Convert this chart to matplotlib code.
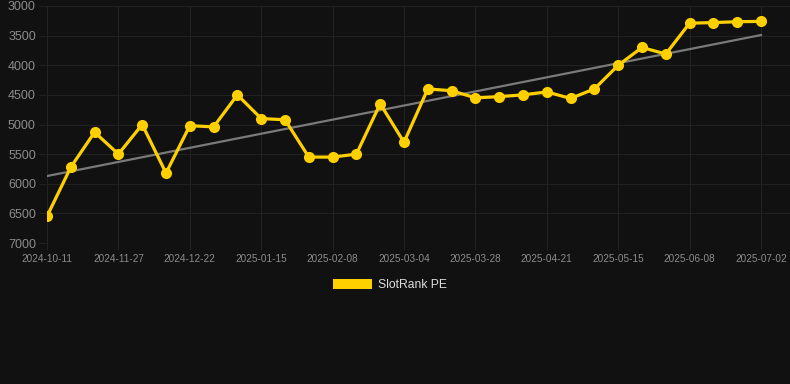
import numpy as np
import matplotlib
matplotlib.use("Agg")
import matplotlib.pyplot as plt
from matplotlib.patches import Patch

plt.rcParams["font.family"] = ["Liberation Sans", "DejaVu Sans"]

dates = ["2024-10-11", "2024-10-27", "2024-11-12", "2024-11-27", "2024-12-05",
         "2024-12-13", "2024-12-22", "2024-12-30", "2025-01-07", "2025-01-15",
         "2025-01-23", "2025-01-31", "2025-02-08", "2025-02-16", "2025-02-24",
         "2025-03-04", "2025-03-12", "2025-03-20", "2025-03-28", "2025-04-05",
         "2025-04-13", "2025-04-21", "2025-04-29", "2025-05-07", "2025-05-15",
         "2025-05-23", "2025-05-31", "2025-06-08", "2025-06-16", "2025-06-24",
         "2025-07-02"]
rank = [6550, 5720, 5130, 5500, 5000, 5820, 5020, 5040, 4500, 4900,
        4920, 5550, 5550, 5500, 4650, 5300, 4400, 4430, 4550, 4530,
        4500, 4450, 4560, 4400, 4000, 3700, 3810, 3290, 3280, 3265,
        3260]
y_ticks = [3000, 3500, 4000, 4500, 5000, 5500, 6000, 6500, 7000]

bg = "#111111"
grid_c = "#222222"
label_c = "#8c8c8c"
gold = "#FFD000"

W, H = 790, 384
fig = plt.figure(figsize=(W / 100, H / 100), dpi=100, facecolor=bg)
# axes box in pixels: left 47, right 790, top 6, bottom 243
ax = fig.add_axes([47 / W, 1 - 243 / H, (790 - 47) / W, (243 - 6) / H])
ax.set_facecolor(bg)

x = np.arange(len(rank))
step = (761 - 47) / 30
ax.set_xlim(0, (790 - 47) / step)
ax.set_ylim(7000, 3000)

# trend line (least squares)
k, b = np.polyfit(x, rank, 1)
ax.plot(x, k * x + b, color="#7a7a7a", lw=1.6, zorder=2)

ax.plot(x, rank, color=gold, lw=2.3, marker="o", markersize=8,
        markeredgewidth=0, zorder=3)

tick_idx = list(range(0, len(dates), 3))
ax.set_xticks(tick_idx)
ax.set_xticklabels([dates[i] for i in tick_idx])
ax.set_yticks(y_ticks)
ax.set_yticklabels([str(v) for v in y_ticks])

ax.grid(True, color=grid_c, lw=0.8)
ax.set_axisbelow(True)
for s in ax.spines.values():
    s.set_visible(False)
ax.tick_params(axis="x", colors=grid_c, length=5, width=0.8, pad=3,
               labelcolor=label_c, labelsize=7.2)
ax.tick_params(axis="y", colors=grid_c, length=6, width=0.8, pad=2,
               labelcolor=label_c, labelsize=9)

handle = Patch(facecolor=gold, edgecolor="none")
fig.legend([handle], ["SlotRank PE"], loc="center", bbox_to_anchor=(390 / W, 1 - 285 / H),
           frameon=False, handlelength=3.3, handleheight=0.9, handletextpad=0.5,
           labelcolor="#dddddd", fontsize=8.7)

fig.savefig("out.png", dpi=100, facecolor=bg)
